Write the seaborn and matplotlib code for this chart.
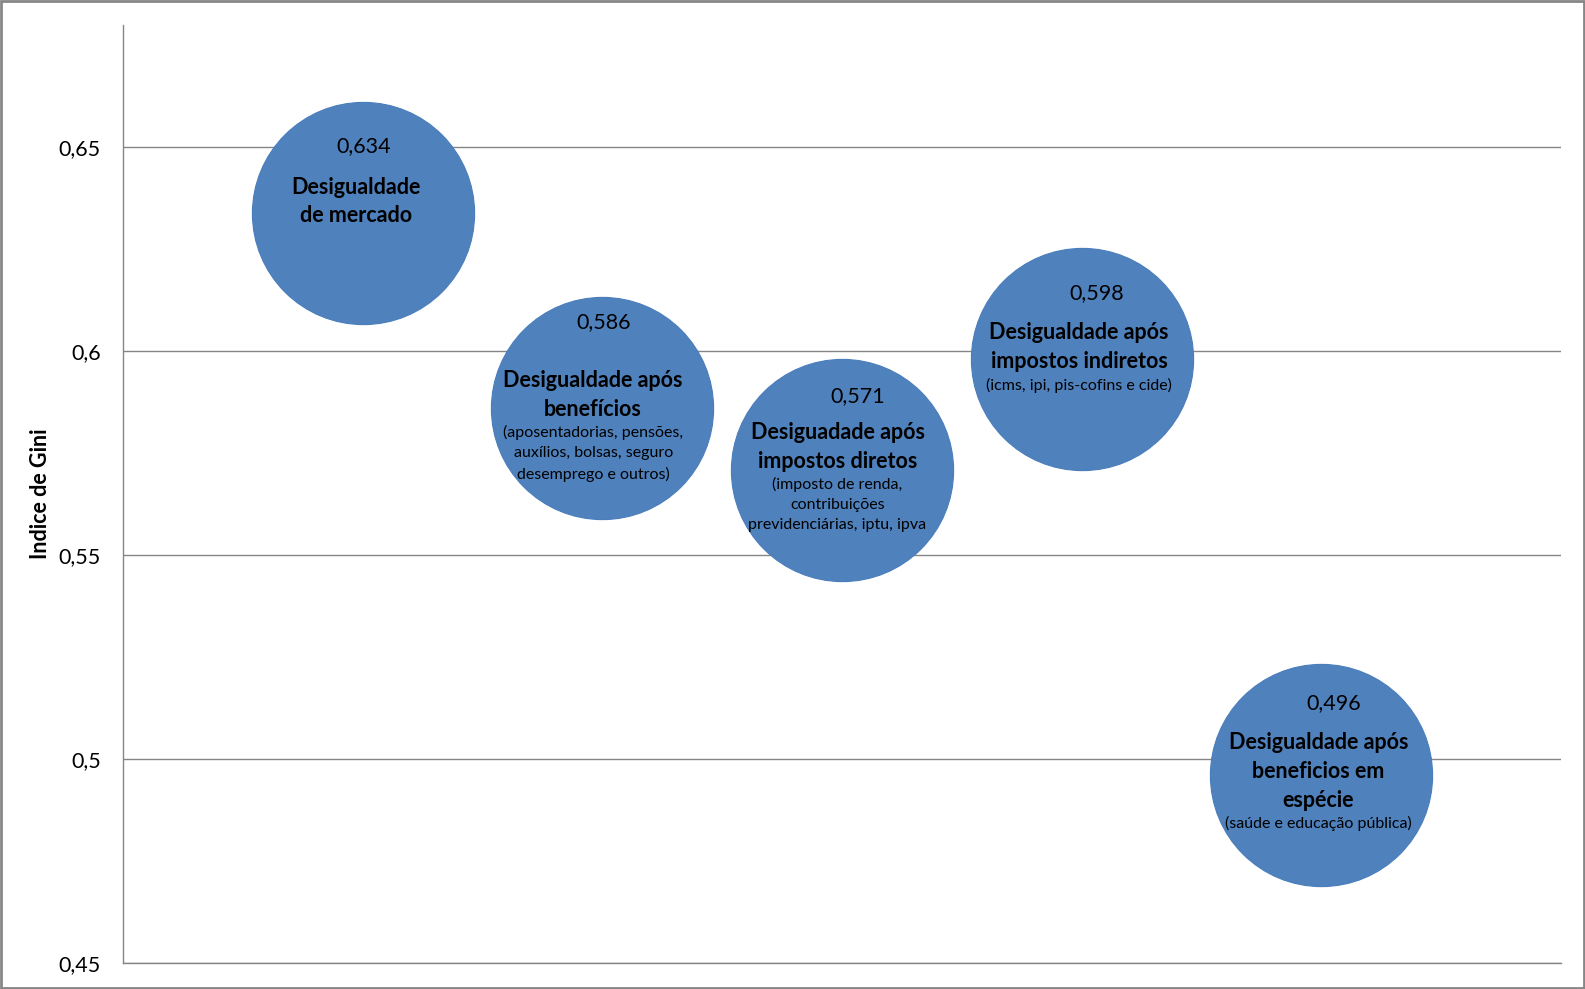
import numpy as np
import pandas as pd
import seaborn as sns
import matplotlib.pyplot as plt
from matplotlib.patches import Rectangle
from matplotlib.ticker import FuncFormatter

# etapas da redistribuicao e indice de Gini correspondente
etapas = [
    "Desigualdade\nde mercado",
    "Desigualdade após\nbenefícios",
    "Desiguadade após\nimpostos diretos",
    "Desigualdade após\nimpostos indiretos",
    "Desigualdade após\nbeneficios em\nespécie",
]
detalhes = [
    "",
    "(aposentadorias, pensões,\nauxílios, bolsas, seguro\ndesemprego e outros)",
    "(imposto de renda,\ncontribuições\nprevidenciárias, iptu, ipva",
    "(icms, ipi, pis-cofins e cide)",
    "(saúde e educação pública)",
]
gini = [0.634, 0.586, 0.571, 0.598, 0.496]
y_ticks = [0.45, 0.5, 0.55, 0.6, 0.65]

df = pd.DataFrame({"etapa": etapas, "gini": gini})
df["pos"] = np.arange(1, len(df) + 1)

# label offsets in pixels from bubble centre (x right, y down)
off_valor = [(1, -67), (1, -86), (16, -73), (15, -66), (12, -72)]
off_nome = [(-7, -11), (-10, -13.5), (-4, -22.5), (-2.5, -12.5), (-3, -4)]
off_det = [(0, 0), (-9, 45), (-4.5, 35), (-3, 26), (-3, 48)]

DPI = 100
W, H = 1585, 989
AZUL = "#4F81BD"
CINZA = "#868686"

sns.set_style("white")
plt.rcParams["font.family"] = ["Lato", "DejaVu Sans"]
plt.rcParams["text.color"] = "black"
plt.rcParams["axes.labelcolor"] = "black"
plt.rcParams["ytick.color"] = "black"

fig = plt.figure(figsize=(W / DPI, H / DPI), dpi=DPI)
ax = fig.add_axes([123 / W, 1 - 963 / H, 1438 / W, 938 / H])

sns.scatterplot(data=df, x="pos", y="gini", s=25600, color=AZUL,
                edgecolor="#4A7EBB", linewidth=0.8, legend=False, ax=ax, zorder=3)

def px2pt(dx, dy):
    return dx * 72 / DPI, -dy * 72 / DPI

for i, row in df.iterrows():
    xy = (row["pos"], row["gini"])
    ax.annotate(f"{row['gini']:.3f}".replace(".", ","), xy=xy,
                xytext=px2pt(*off_valor[i]), textcoords="offset points",
                ha="center", va="center", fontsize=15.5, zorder=4)
    ax.annotate(row["etapa"], xy=xy, xytext=px2pt(*off_nome[i]),
                textcoords="offset points", ha="center", va="center",
                fontsize=15.5, fontweight="bold", linespacing=1.45, zorder=4)
    if detalhes[i]:
        ax.annotate(detalhes[i], xy=xy, xytext=px2pt(*off_det[i]),
                    textcoords="offset points", ha="center", va="center",
                    fontsize=11.5, linespacing=1.55, zorder=4)

ax.set_xlim(0, 6)
ax.set_ylim(0.45, 0.68)
ax.set_xticks([])
ax.set_yticks(y_ticks)
ax.yaxis.set_major_formatter(FuncFormatter(lambda v, _: f"{v:g}".replace(".", ",")))
ax.tick_params(axis="y", length=0, pad=16, labelsize=15.5)
ax.grid(axis="y", color=CINZA, linewidth=1)
ax.set_axisbelow(True)
ax.set_xlabel("")
ax.set_ylabel("Indice de Gini", fontsize=15.5, fontweight="bold")
ax.yaxis.set_label_coords(-0.050, 0.5)

for side in ["top", "right"]:
    ax.spines[side].set_visible(False)
for side in ["left", "bottom"]:
    ax.spines[side].set_color(CINZA)
    ax.spines[side].set_linewidth(1)

# moldura externa do grafico
fig.patches.append(Rectangle((0.0008, 0.0012), 0.9984, 0.9976, transform=fig.transFigure,
                             fill=False, edgecolor=CINZA, linewidth=2))

fig.savefig("out.png", dpi=DPI)
